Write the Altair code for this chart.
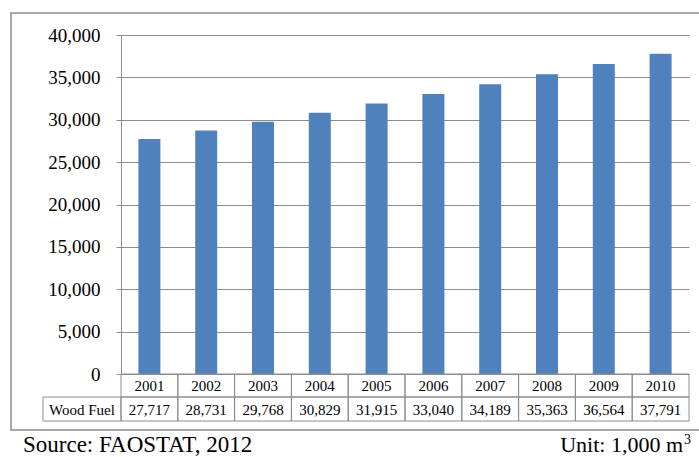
import altair as alt
import pandas as pd

# Wood fuel production, thousand cubic metres
years = ["2001", "2002", "2003", "2004", "2005", "2006", "2007", "2008", "2009", "2010"]
wood_fuel = [27717, 28731, 29768, 30829, 31915, 33040, 34189, 35363, 36564, 37791]
y_ticks = [0, 5000, 10000, 15000, 20000, 25000, 30000, 35000, 40000]

source_text = "Source: FAOSTAT, 2012"
unit_text = "Unit: 1,000 m"
unit_sup = "3"
row_label = "Wood Fuel"

df = pd.DataFrame({"year": years, "value": wood_fuel})
one = pd.DataFrame({"k": [0]})

SERIF = "Liberation Serif"
GRID = "#8c8c8c"
BAR = "#4f81bd"
W, H = 568, 339

x_enc = alt.X("year:N", sort=years, axis=None,
              scale=alt.Scale(paddingInner=0, paddingOuter=0))

bars = alt.Chart(df).mark_bar(size=22, color=BAR).encode(
    x=x_enc,
    y=alt.Y("value:Q",
            scale=alt.Scale(domain=[0, 40000], nice=False),
            axis=alt.Axis(values=y_ticks, format=",.0f", title=None,
                          labelFont=SERIF, labelFontSize=19, labelColor="#000",
                          labelPadding=16, tickSize=5, tickColor=GRID,
                          domainColor=GRID, gridColor=GRID, grid=True)),
)

# data table below the plot: year row and value row
row1 = alt.Chart(df).mark_rect(fill=None, stroke=GRID, strokeWidth=1).encode(
    x=x_enc, y=alt.value(H), y2=alt.value(H + 23))
row2 = alt.Chart(df).mark_rect(fill=None, stroke=GRID, strokeWidth=1).encode(
    x=x_enc, y=alt.value(H + 23), y2=alt.value(H + 47))
head = alt.Chart(one).mark_rect(fill=None, stroke=GRID, strokeWidth=1).encode(
    x=alt.value(-78), x2=alt.value(0), y=alt.value(H + 23), y2=alt.value(H + 47))

year_text = alt.Chart(df).mark_text(font=SERIF, fontSize=15, baseline="middle",
                                    color="#000").encode(
    x=x_enc, y=alt.value(H + 12), text="year:N")
val_text = alt.Chart(df).mark_text(font=SERIF, fontSize=15, baseline="middle",
                                   color="#000").encode(
    x=x_enc, y=alt.value(H + 35.5), text=alt.Text("value:Q", format=",.0f"))
head_text = alt.Chart(one).mark_text(font=SERIF, fontSize=15, baseline="middle",
                                     color="#000", text=row_label).encode(
    x=alt.value(-39), y=alt.value(H + 35.5))

# outer border around chart area
frame = alt.Chart(one).mark_rect(fill=None, stroke=GRID, strokeWidth=1.5).encode(
    x=alt.value(-110), x2=alt.value(600), y=alt.value(-22), y2=alt.value(H + 56))

src = alt.Chart(one).mark_text(font=SERIF, fontSize=23, align="left",
                               baseline="alphabetic", color="#000",
                               text=source_text).encode(
    x=alt.value(-98), y=alt.value(H + 78))
unit = alt.Chart(one).mark_text(font=SERIF, fontSize=22, align="right",
                                baseline="alphabetic", color="#000",
                                text=unit_text).encode(
    x=alt.value(562), y=alt.value(H + 78))
unit3 = alt.Chart(one).mark_text(font=SERIF, fontSize=14, align="left",
                                 baseline="alphabetic", color="#000",
                                 text=unit_sup).encode(
    x=alt.value(563), y=alt.value(H + 70))

chart = alt.layer(frame, bars, row1, row2, head, year_text, val_text, head_text,
                  src, unit, unit3).properties(
    width=W, height=H,
    autosize=alt.AutoSizeParams(type="none"),
    padding={"left": 121, "top": 35, "right": 10, "bottom": 83},
    background="white",
).configure_view(stroke=None)

chart.save("out.html", embed_options={"renderer": "svg", "actions": False})
